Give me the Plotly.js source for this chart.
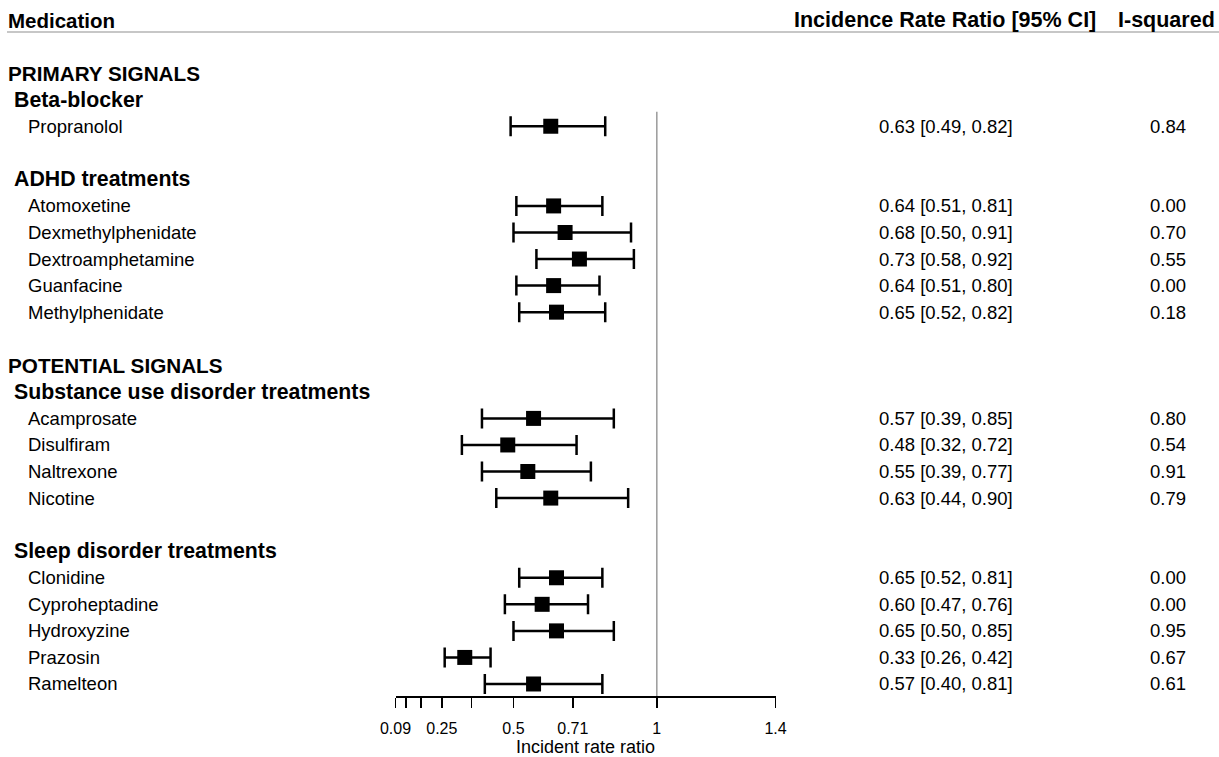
<!DOCTYPE html>
<html>
<head>
<meta charset="utf-8">
<script src="https://cdn.plot.ly/plotly-3.0.1.min.js"></script>
<style>html,body{margin:0;padding:0;background:#fff;}#chart{width:1219px;height:757px;}</style>
</head>
<body>
<div id="chart"></div>
<script>
// ---- data ----
var signals = ['PRIMARY SIGNALS', 'POTENTIAL SIGNALS'];
var subgroups = ['Beta-blocker', 'ADHD treatments', 'Substance use disorder treatments', 'Sleep disorder treatments'];
var subgroupSignal = [0, 0, 1, 1];
var medications = ['Propranolol',
  'Atomoxetine', 'Dexmethylphenidate', 'Dextroamphetamine', 'Guanfacine', 'Methylphenidate',
  'Acamprosate', 'Disulfiram', 'Naltrexone', 'Nicotine',
  'Clonidine', 'Cyproheptadine', 'Hydroxyzine', 'Prazosin', 'Ramelteon'];
var medSubgroup = [0, 1, 1, 1, 1, 1, 2, 2, 2, 2, 3, 3, 3, 3, 3];
var irr   = [0.63, 0.64, 0.68, 0.73, 0.64, 0.65, 0.57, 0.48, 0.55, 0.63, 0.65, 0.60, 0.65, 0.33, 0.57];
var lower = [0.49, 0.51, 0.50, 0.58, 0.51, 0.52, 0.39, 0.32, 0.39, 0.44, 0.52, 0.47, 0.50, 0.26, 0.40];
var upper = [0.82, 0.81, 0.91, 0.92, 0.80, 0.82, 0.85, 0.72, 0.77, 0.90, 0.81, 0.76, 0.85, 0.42, 0.81];
var isq   = [0.84, 0.00, 0.70, 0.55, 0.00, 0.18, 0.80, 0.54, 0.91, 0.79, 0.00, 0.00, 0.95, 0.67, 0.61];
var tickVals = [0.0884, 0.125, 0.177, 0.25, 0.354, 0.5, 0.707, 1, 1.414];
var tickText = ['0.09', '', '', '0.25', '', '0.5', '0.71', '1', '1.4'];
var colHeaders = ['Medication', 'Incidence Rate Ratio [95% CI]', 'I-squared'];
var xTitle = 'Incident rate ratio';

// ---- layout rows ----
var W = 1219;
var FONT = '"Liberation Sans", Arial, Helvetica, sans-serif';
var headerRow = 26;
var medRow = new Array(medications.length);
var ann = [];
function px(v) { return v / W; }
function addText(txt, xpx, row, anchor, size, bold) {
  ann.push({text: bold ? '<b>' + txt + '</b>' : txt, xref: 'paper', yref: 'y', x: px(xpx), y: row,
    xanchor: anchor, yanchor: 'middle', showarrow: false, borderpad: 0,
    font: {family: FONT, size: size, color: '#000'}});
}
var r = headerRow - 2;
for (var s = 0; s < signals.length; s++) {
  if (s > 0) r -= 1;
  addText(signals[s], 7, r, 'left', 20.7, true);
  r -= 1;
  var gi = 0;
  for (var g = 0; g < subgroups.length; g++) {
    if (subgroupSignal[g] !== s) continue;
    if (gi > 0) r -= 1;
    addText(subgroups[g], 13, r, 'left', 21.3, true);
    r -= 1;
    for (var m = 0; m < medications.length; m++) {
      if (medSubgroup[m] !== g) continue;
      medRow[m] = r;
      addText(medications[m], 27, r, 'left', 18.5, false);
      addText(irr[m].toFixed(2) + ' [' + lower[m].toFixed(2) + ', ' + upper[m].toFixed(2) + ']', 1014, r, 'right', 18.5, false);
      addText(isq[m].toFixed(2), 1187, r, 'right', 18.5, false);
      r -= 1;
    }
    gi++;
  }
}
addText(colHeaders[0], 7, headerRow, 'left', 20.5, true);
addText(colHeaders[1], 1097, headerRow, 'right', 21.5, true);
addText(colHeaders[2], 1216, headerRow, 'right', 21.5, true);

var trace = {
  type: 'scatter', mode: 'markers',
  x: irr, y: medRow,
  marker: {symbol: 'square', size: 15, color: '#000'},
  error_x: {type: 'data', symmetric: false,
    array: upper.map(function (u, i) { return u - irr[i]; }),
    arrayminus: lower.map(function (l, i) { return irr[i] - l; }),
    color: '#000', thickness: 2.5, width: 10},
  hoverinfo: 'skip', cliponaxis: false
};

var layout = {
  width: 1219, height: 757,
  margin: {l: 0, r: 0, t: 0, b: 61},
  paper_bgcolor: '#fff', plot_bgcolor: '#fff',
  showlegend: false,
  font: {family: FONT, color: '#000'},
  xaxis: {
    domain: [395.5 / W, 775.5 / W],
    range: [0.0884, 1.414], type: 'linear', fixedrange: true,
    tickvals: tickVals, ticktext: tickText,
    ticks: 'outside', ticklen: 10, tickwidth: 1.6, tickcolor: '#000',
    showline: true, linecolor: '#000', linewidth: 1.6,
    showgrid: false, zeroline: false, automargin: false,
    ticklabelstandoff: 7,
    tickfont: {family: FONT, size: 16, color: '#000'},
    title: {text: xTitle, font: {family: FONT, size: 18, color: '#000'}, standoff: 14}
  },
  yaxis: {
    domain: [0, 1], range: [0.548, 26.753], fixedrange: true,
    visible: false, showgrid: false, zeroline: false
  },
  shapes: [
    {type: 'line', xref: 'x', yref: 'y', x0: 1, x1: 1, y0: 0.548, y1: 22.55,
      line: {color: '#9a9a9a', width: 1.5}},
    {type: 'line', xref: 'paper', yref: 'y', x0: px(7), x1: 1, y0: 25.55, y1: 25.55,
      line: {color: '#b4b4b4', width: 1.5}}
  ],
  annotations: ann
};
Plotly.newPlot('chart', [trace], layout, {displayModeBar: false, staticPlot: true});
</script>
</body>
</html>
